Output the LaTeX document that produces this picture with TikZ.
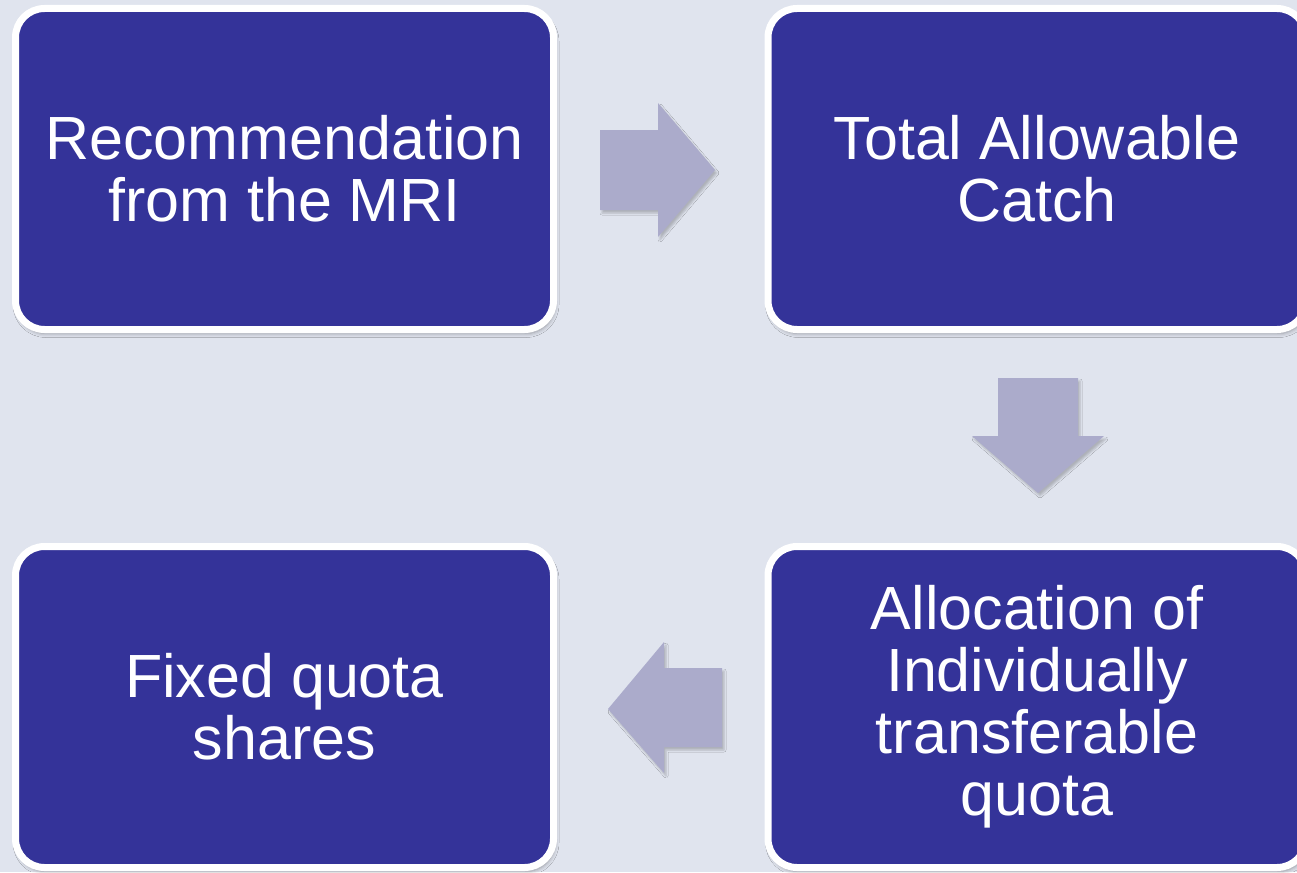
\documentclass[tikz,border=0pt]{standalone}
\usepackage{fontspec}
\setmainfont{Liberation Sans}
\usetikzlibrary{shadows.blur}
\definecolor{bg}{HTML}{E0E4EE}
\definecolor{boxblue}{HTML}{343399}
\definecolor{arrowc}{HTML}{ABABCB}
\tikzset{
  stepbox/.style={draw=white, line width=7pt, fill=boxblue, rounded corners=29pt,
    minimum width=538pt, minimum height=321pt, inner sep=0pt, text=white, align=center,
    font=\fontsize{61}{62}\selectfont,
    blur shadow={shadow xshift=1.5pt, shadow yshift=-4pt, shadow blur radius=4pt, shadow opacity=35}},
  blockarrow/.style={fill=arrowc,
    blur shadow={shadow xshift=2pt, shadow yshift=-3pt, shadow blur radius=2pt, shadow opacity=22}}
}
\begin{document}
\begin{tikzpicture}[x=1pt,y=-1pt]
\fill[bg] (0,0) rectangle (1297,872);
\useasboundingbox (0,0) rectangle (1297,872);
\node[stepbox] (rec) at (284.5,169) {Recommendation\\from the MRI};
\node[stepbox] (tac) at (1037,169) {Total Allowable\\Catch};
\node[stepbox] (itq) at (1037,707) {Allocation of\\Individually\\transferable\\quota};
\node[stepbox] (fqs) at (284.5,707) {Fixed quota\\shares};
% right arrow
\fill[blockarrow] (600,130) -- (658,130) -- (658,103) -- (715,170) -- (658,237) -- (658,210) -- (600,210) -- cycle;
% down arrow
\fill[blockarrow] (998,378) -- (1078,378) -- (1078,436) -- (1104,436) -- (1038,493) -- (972,436) -- (998,436) -- cycle;
% left arrow
\fill[blockarrow] (722,668) -- (664,668) -- (664,642) -- (608,709) -- (664,773) -- (664,747) -- (722,747) -- cycle;
\end{tikzpicture}
\end{document}
